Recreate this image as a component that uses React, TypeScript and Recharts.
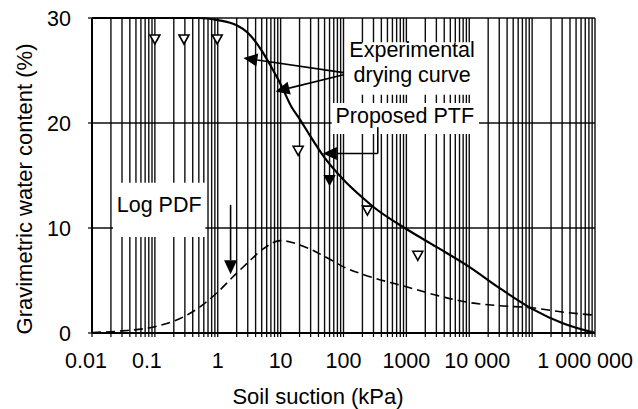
import React from 'react';
import {
  ComposedChart,
  Line,
  Scatter,
  XAxis,
  YAxis,
  CartesianGrid,
  ReferenceArea,
  ReferenceLine,
} from 'recharts';

// ---- data ----
const dryingCurve = [
  { s: 0.01, w: 30 },
  { s: 0.1, w: 30 },
  { s: 0.5, w: 30 },
  { s: 1, w: 29.8 },
  { s: 2, w: 29.3 },
  { s: 3, w: 28.6 },
  { s: 5, w: 26.9 },
  { s: 7, w: 25.4 },
  { s: 10, w: 23.7 },
  { s: 15, w: 21.5 },
  { s: 20, w: 20.4 },
  { s: 30, w: 18.7 },
  { s: 50, w: 16.7 },
  { s: 100, w: 14.6 },
  { s: 200, w: 12.9 },
  { s: 300, w: 12.0 },
  { s: 1000, w: 9.9 },
  { s: 3000, w: 8.2 },
  { s: 10000, w: 6.3 },
  { s: 30000, w: 4.3 },
  { s: 100000, w: 2.3 },
  { s: 300000, w: 0.95 },
  { s: 1000000, w: 0 },
];

const logPdf = [
  { s: 0.01, w: 0.05 },
  { s: 0.03, w: 0.2 },
  { s: 0.1, w: 0.6 },
  { s: 0.3, w: 1.6 },
  { s: 0.5, w: 2.4 },
  { s: 1, w: 3.9 },
  { s: 2, w: 5.7 },
  { s: 3, w: 6.7 },
  { s: 5, w: 7.9 },
  { s: 10, w: 8.8 },
  { s: 20, w: 8.4 },
  { s: 50, w: 7.3 },
  { s: 100, w: 6.3 },
  { s: 200, w: 5.6 },
  { s: 1000, w: 4.4 },
  { s: 3000, w: 3.6 },
  { s: 10000, w: 2.9 },
  { s: 30000, w: 2.6 },
  { s: 100000, w: 2.4 },
  { s: 300000, w: 2.0 },
  { s: 1000000, w: 1.7 },
];

const experimental = [
  { s: 0.1, w: 28.0 },
  { s: 0.29, w: 28.0 },
  { s: 0.98, w: 28.0 },
  { s: 19, w: 17.4 },
  { s: 240, w: 11.7 },
  { s: 1520, w: 7.4 },
];

const experimentalDark = [{ s: 60, w: 14.6 }];

const xTickValues = [0.01, 0.1, 1, 10, 100, 1000, 10000, 1000000];
const xTickLabels = ['0.01', '0.1', '1', '10', '100', '1000', '10 000', '1 000 000'];
const yTicks = [0, 10, 20, 30];

// minor log grid positions (1..9 x 10^k)
const gridTicks: number[] = [];
for (let k = -2; k <= 5; k++) {
  for (let m = 1; m <= 9; m++) {
    gridTicks.push(Number((m * Math.pow(10, k)).toPrecision(6)));
  }
}
gridTicks.push(1000000);

// annotation arrows (data coordinates)
const arrowExp1 = [{ x: 100, y: 24.8 }, { x: 2.56, y: 26.2 }];
const arrowExp2 = [{ x: 100, y: 24.6 }, { x: 8.3, y: 23.0 }];
const ptfElbowDown = [{ x: 351, y: 19.6 }, { x: 351, y: 17.1 }];
const ptfElbowLeft = [{ x: 351, y: 17.1 }, { x: 47, y: 17.1 }];
const pdfArrow = [{ x: 1.6, y: 12.2 }, { x: 1.6, y: 5.6 }];

const FONT = '"Liberation Sans", Arial, Helvetica, sans-serif';

const XTick = (props: any) => {
  const { x, y, payload } = props;
  const i = xTickValues.indexOf(payload.value);
  if (i < 0) return <g />;
  const last = i === xTickValues.length - 1;
  const shift: Record<number, number> = { 0: -6, 1: -8, 6: 8 };
  return (
    <text
      x={last ? x + 38 : x + (shift[i] || 0)}
      y={y}
      dy={31}
      textAnchor={last ? 'end' : 'middle'}
      fontFamily={FONT}
      fontSize={21.5}
      fill="#000"
    >
      {xTickLabels[i]}
    </text>
  );
};

const Arrow = (props: any) => {
  const { x1, y1, x2, y2 } = props;
  const a = Math.atan2(y2 - y1, x2 - x1);
  const L = 14;
  const h = 6.5;
  const bx = x2 - L * Math.cos(a);
  const by = y2 - L * Math.sin(a);
  const p1x = bx + h * Math.sin(a);
  const p1y = by - h * Math.cos(a);
  const p2x = bx - h * Math.sin(a);
  const p2y = by + h * Math.cos(a);
  return (
    <g>
      <line x1={x1} y1={y1} x2={bx} y2={by} stroke="#000" strokeWidth={1.6} />
      <polygon points={`${x2},${y2} ${p1x},${p1y} ${p2x},${p2y}`} fill="#000" />
    </g>
  );
};

const Seg = (props: any) => {
  const { x1, y1, x2, y2 } = props;
  return <line x1={x1} y1={y1} x2={x2} y2={y2} stroke="#000" strokeWidth={1.6} />;
};

const OpenTriangle = (props: any) => {
  const { cx, cy } = props;
  if (cx == null || cy == null) return <g />;
  return (
    <polygon
      points={`${cx - 5},${cy - 4} ${cx + 5},${cy - 4} ${cx},${cy + 5}`}
      fill="#fff"
      stroke="#000"
      strokeWidth={1.6}
    />
  );
};

const DarkTriangle = (props: any) => {
  const { cx, cy } = props;
  if (cx == null || cy == null) return <g />;
  return (
    <polygon
      points={`${cx - 5},${cy - 4} ${cx + 5},${cy - 4} ${cx},${cy + 5}`}
      fill="#000"
      stroke="#000"
      strokeWidth={1.4}
    />
  );
};

const textStyle = { fontFamily: FONT, fontSize: 22, fill: '#000' };
const annoStyle = { fontFamily: FONT, fontSize: 21.5, fill: '#000' };

const ExpLabel = (props: any) => {
  const vb = props.viewBox || { x: 345, y: 42, width: 135, height: 53 };
  const cx = vb.x + 66;
  return (
    <g>
      <text x={cx} y={vb.y + 15} textAnchor="middle" {...annoStyle}>
        Experimental
      </text>
      <text x={cx} y={vb.y + 39.5} textAnchor="middle" {...annoStyle}>
        drying curve
      </text>
    </g>
  );
};

const PtfLabel = (props: any) => {
  const vb = props.viewBox || { x: 332, y: 103, width: 146, height: 31 };
  return (
    <text x={vb.x + 73} y={vb.y + 20} textAnchor="middle" {...annoStyle}>
      Proposed PTF
    </text>
  );
};

const PdfLabel = (props: any) => {
  const vb = props.viewBox || { x: 113, y: 183, width: 92, height: 54 };
  return (
    <text x={vb.x + vb.width / 2} y={vb.y + 29} textAnchor="middle" {...annoStyle}>
      Log PDF
    </text>
  );
};

const XTitle = () => (
  <text x={318} y={404} textAnchor="middle" {...textStyle}>
    Soil suction (kPa)
  </text>
);

const YTitle = () => (
  <text
    x={24}
    y={189}
    dy="0.35em"
    textAnchor="middle"
    transform="rotate(-90, 24, 189)"
    {...textStyle}
  >
    Gravimetric water content (%)
  </text>
);

export default function App() {
  return (
    <div style={{ position: 'absolute', left: 0, top: 0, background: '#fff' }}>
      <ComposedChart
        width={638}
        height={409}
        margin={{ top: 18, right: 43, bottom: 0, left: 0 }}
        style={{ background: '#fff' }}
      >
        <CartesianGrid stroke="#000" strokeWidth={1.4} strokeOpacity={0.95} />
        <XAxis
          dataKey="s"
          type="number"
          scale="log"
          domain={[0.01, 1000000]}
          allowDataOverflow
          ticks={gridTicks}
          interval={0}
          tick={<XTick />}
          tickSize={4}
          tickMargin={0}
          tickLine={{ stroke: '#000', strokeWidth: 1.2 }}
          axisLine={{ stroke: '#000', strokeWidth: 2 }}
          height={76}
          label={XTitle}
        />
        <YAxis
          type="number"
          domain={[0, 30]}
          ticks={yTicks}
          interval={0}
          width={92}
          tickSize={4}
          tickMargin={17}
          tick={{ fontFamily: FONT, fontSize: 21.5, fill: '#000' }}
          tickLine={{ stroke: '#000', strokeWidth: 1.2 }}
          axisLine={{ stroke: '#000', strokeWidth: 2 }}
          label={YTitle}
        />
        <ReferenceArea
          x1={110}
          x2={17000}
          y1={22.7}
          y2={27.7}
          fill="#fff"
          fillOpacity={1}
          stroke="none"
          label={ExpLabel}
        />
        <ReferenceArea
          x1={65}
          x2={14300}
          y1={18.95}
          y2={21.9}
          fill="#fff"
          fillOpacity={1}
          stroke="none"
          label={PtfLabel}
        />
        <ReferenceArea
          x1={0.0216}
          x2={0.634}
          y1={9.14}
          y2={14.3}
          fill="#fff"
          fillOpacity={1}
          stroke="none"
          label={PdfLabel}
        />
        <Line
          data={logPdf}
          dataKey="w"
          type="monotone"
          stroke="#000"
          strokeWidth={1.6}
          strokeDasharray="9 5"
          dot={false}
          isAnimationActive={false}
        />
        <Line
          data={dryingCurve}
          dataKey="w"
          type="monotone"
          stroke="#000"
          strokeWidth={2.2}
          dot={false}
          isAnimationActive={false}
        />
        <Scatter
          data={experimental}
          dataKey="w"
          shape={OpenTriangle}
          isAnimationActive={false}
        />
        <Scatter
          data={experimentalDark}
          dataKey="w"
          shape={DarkTriangle}
          isAnimationActive={false}
        />
        <ReferenceLine segment={arrowExp1} shape={Arrow} />
        <ReferenceLine segment={arrowExp2} shape={Arrow} />
        <ReferenceLine segment={ptfElbowDown} shape={Seg} />
        <ReferenceLine segment={ptfElbowLeft} shape={Arrow} />
        <ReferenceLine segment={pdfArrow} shape={Arrow} />
      </ComposedChart>
    </div>
  );
}
